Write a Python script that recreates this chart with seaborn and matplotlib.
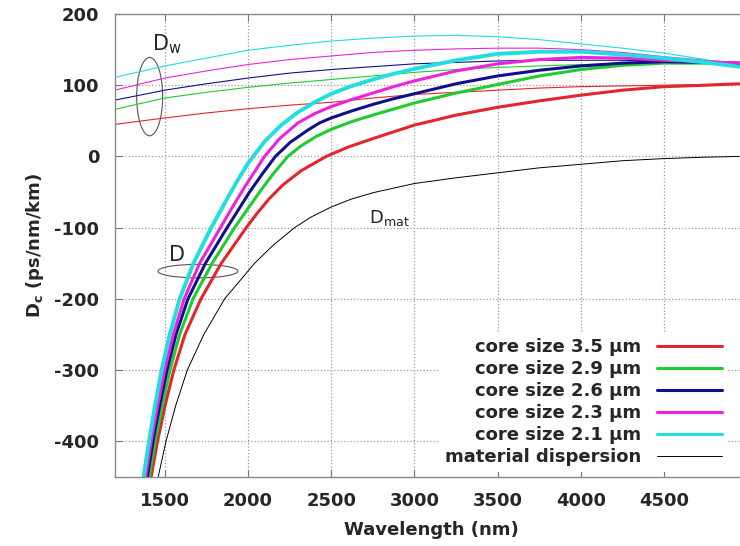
import numpy as np
import pandas as pd
import seaborn as sns
import matplotlib
matplotlib.use("Agg")
from matplotlib import pyplot as plt
from matplotlib.patches import Ellipse

# core sizes (um) and their colours
coreSizes = ["3.5", "2.9", "2.6", "2.3", "2.1"]
coreColors = ["#e3262b", "#1fcc2e", "#10108c", "#ee22dd", "#22dede"]

# waveguide dispersion Dw (thin lines), read on a common wavelength grid
dwWavelength = [1200, 1500, 1750, 2000, 2250, 2500, 2750, 3000, 3250, 3500, 3750, 4000, 4250, 4500, 4750, 4950]
dw35 = [45, 54, 61, 67, 72, 76, 82, 87, 90, 93, 96, 98, 99, 100, 101, 102]
dw29 = [66, 82, 90, 97, 103, 108, 113, 118, 122, 125, 127, 129, 130, 131, 131, 130]
dw26 = [79, 93, 102, 110, 117, 122, 126, 130, 132, 134, 135, 135, 135, 134, 132, 131]
dw23 = [93, 110, 120, 129, 136, 141, 146, 149, 151, 152, 152, 150, 146, 140, 135, 131]
dw21 = [111, 127, 138, 149, 156, 162, 166, 169, 170, 168, 164, 158, 152, 145, 136, 126]

# total dispersion D (thick lines)
d35x = [1419, 1457, 1502, 1555, 1622, 1718, 1840, 1990, 2055, 2125, 2210, 2320, 2470, 2600, 2750, 3000, 3250, 3500, 3750, 4000, 4250, 4500, 4750, 4950]
d35y = [-450, -400, -350, -300, -250, -200, -150, -100, -80, -60, -40, -20, 0, 13, 25, 44, 58, 69, 78, 86, 93, 98, 100, 102]
d29x = [1407, 1443, 1485, 1532, 1590, 1670, 1785, 1920, 2070, 2150, 2240, 2320, 2410, 2500, 2625, 2750, 3000, 3250, 3500, 3750, 4000, 4250, 4500, 4750, 4950]
d29y = [-450, -400, -350, -300, -250, -200, -150, -100, -50, -25, 0, 15, 28, 38, 49, 58, 75, 89, 101, 113, 122, 128, 131, 131, 130]
d26x = [1396, 1430, 1470, 1514, 1568, 1640, 1745, 1875, 2010, 2085, 2165, 2255, 2360, 2430, 2500, 2625, 2750, 2875, 3000, 3250, 3500, 3750, 4000, 4250, 4500, 4750, 4950]
d26y = [-450, -400, -350, -300, -250, -200, -150, -100, -50, -25, 0, 20, 37, 47, 54, 64, 73, 81, 88, 102, 113, 121, 127, 131, 133, 132, 131]
d23x = [1386, 1419, 1458, 1500, 1552, 1617, 1710, 1835, 1910, 1975, 2030, 2100, 2190, 2300, 2400, 2500, 2625, 2750, 2875, 3000, 3250, 3500, 3750, 4000, 4250, 4500, 4750, 4950]
d23y = [-450, -400, -350, -300, -250, -200, -150, -100, -70, -45, -25, 0, 25, 47, 60, 70, 80, 89, 98, 106, 120, 130, 136, 139, 138, 135, 133, 131]
d21x = [1373, 1406, 1442, 1482, 1530, 1590, 1673, 1780, 1850, 1900, 1950, 2000, 2100, 2200, 2300, 2400, 2500, 2625, 2750, 2875, 3000, 3250, 3500, 3750, 4000, 4250, 4500, 4750, 4950]
d21y = [-450, -400, -350, -300, -250, -200, -150, -100, -70, -49, -29, -10, 21, 44, 62, 76, 88, 99, 108, 116, 123, 135, 144, 147, 147, 143, 138, 132, 126]

# material dispersion
matX = [1461, 1508, 1566, 1636, 1735, 1860, 2040, 2150, 2280, 2380, 2500, 2620, 2750, 3000, 3250, 3500, 3750, 4000, 4250, 4500, 4750, 4950]
matY = [-450, -400, -350, -300, -250, -200, -150, -125, -100, -85, -71, -60, -51, -38, -30, -23, -16, -11, -6, -3, -1, 0]

dwList = [dw35, dw29, dw26, dw23, dw21]
dList = [(d35x, d35y), (d29x, d29y), (d26x, d26y), (d23x, d23y), (d21x, d21y)]

sns.set_style("ticks")
plt.rcParams["font.family"] = ["DejaVu Sans"]
plt.rcParams["font.weight"] = "bold"
plt.rcParams["mathtext.default"] = "regular"
plt.rcParams["axes.unicode_minus"] = False

fig = plt.figure(figsize=(7.4, 5.46), dpi=100)
ax = fig.add_axes([0.155, 0.1264, 0.855, 0.848])

# thin waveguide curves first
for dw, col in zip(dwList, coreColors):
    sns.lineplot(x=dwWavelength, y=dw, ax=ax, color=col, lw=0.8, estimator=None, legend=False)

# thick total dispersion curves
for (dx, dy), col, size in zip(dList, coreColors, coreSizes):
    lw = 2.8 if size == "2.1" else 2.2
    sns.lineplot(x=dx, y=dy, ax=ax, color=col, lw=lw, estimator=None,
                 label="core size " + size + " \u03bcm")

sns.lineplot(x=matX, y=matY, ax=ax, color="black", lw=0.7, estimator=None,
             label="material dispersion")

ax.set_xlim(1200, 5000)
ax.set_ylim(-450, 200)
ax.set_xticks([1500, 2000, 2500, 3000, 3500, 4000, 4500])
ax.set_yticks([-400, -300, -200, -100, 0, 100, 200])
ax.tick_params(direction="in", length=5, width=0.8, top=True, right=True,
               labelsize=13, pad=11, color="#777777")
for lab in ax.get_xticklabels() + ax.get_yticklabels():
    lab.set_fontweight("bold")
ax.grid(True, color="#999999", linestyle=":", lw=0.9)
for sp in ax.spines.values():
    sp.set_color("#888888")
    sp.set_linewidth(1.0)

ax.set_xlabel("Wavelength (nm)", fontsize=13, fontweight="bold", labelpad=8)
ax.set_ylabel("D$_c$ (ps/nm/km)", fontsize=13, fontweight="bold", labelpad=6)

# ellipses marking the groups of curves
ax.add_patch(Ellipse((1410, 84), 156, 110, fill=False, ec="#555555", lw=0.8))
ax.add_patch(Ellipse((1700, -161), 480, 19, fill=False, ec="#555555", lw=0.8))
ax.text(1425, 158, "D$_w$", fontsize=15, fontweight="normal", va="center")
ax.text(1525, -139, "D", fontsize=15, fontweight="normal", va="center")
ax.text(2730, -94, "D$_{mat}$", fontsize=13, fontweight="normal", va="baseline")

leg = ax.legend(loc="lower right", bbox_to_anchor=(0.98, -0.004), markerfirst=False,
                frameon=True, fancybox=False, edgecolor="none", facecolor="white",
                framealpha=1, fontsize=13, handlelength=3.6, handletextpad=0.9,
                labelspacing=0.22, borderpad=0.3, borderaxespad=0.4)
for t in leg.get_texts():
    t.set_ha("right")
    t.set_fontweight("bold")
for h in leg.get_lines():
    if h.get_color() != "black":
        h.set_linewidth(2.2)

fig.savefig("out.png", dpi=100)
